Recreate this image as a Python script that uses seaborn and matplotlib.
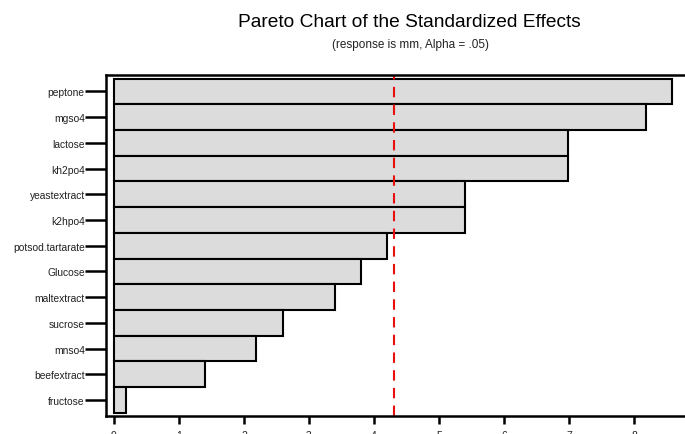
import matplotlib
matplotlib.use("Agg")
import matplotlib.pyplot as plt
import seaborn as sns
import pandas as pd

# Standardized effects, largest first
factors = ["peptone", "mgso4", "lactose", "kh2po4", "yeastextract", "k2hpo4",
           "potsod.tartarate", "Glucose", "maltextract", "sucrose", "mnso4",
           "beefextract", "fructose"]
effects = [8.58, 8.18, 6.98, 6.98, 5.40, 5.40, 4.20, 3.80, 3.40, 2.60, 2.18, 1.40, 0.18]
critical_t = 4.303
x_ticks = [0, 1, 2, 3, 4, 5, 6, 7, 8]

df = pd.DataFrame({"factor": factors, "effect": effects})

sns.set_style("white")
plt.rcParams["font.family"] = ["Liberation Sans", "DejaVu Sans"]
plt.rcParams["text.color"] = "black"
plt.rcParams["xtick.color"] = "black"
plt.rcParams["ytick.color"] = "black"

fig = plt.figure(figsize=(6.85, 4.35), dpi=100)
ax = fig.add_axes([106 / 685, 18 / 435, 579 / 685, 341 / 435])

sns.barplot(data=df, x="effect", y="factor", orient="h", color="#dcdcdc",
            edgecolor="black", linewidth=1.5, width=1.0, saturation=1, ax=ax)

ax.axvline(critical_t, color="#e8100e", linestyle=(0, (5, 3.5)), linewidth=1.5)

ax.set_xlim(-0.123, 8.785)
ax.set_ylim(12.62, -0.64)
ax.set_xticks(x_ticks)
ax.set_xlabel("")
ax.set_ylabel("")

for side in ["left", "bottom", "top"]:
    ax.spines[side].set_linewidth(1.8)
    ax.spines[side].set_color("black")
ax.spines["right"].set_visible(False)

ax.tick_params(axis="y", direction="out", length=15, width=1.8, pad=0.3,
               labelsize=7.4, left=True, labelcolor="#222222")
ax.tick_params(axis="x", direction="out", length=6, width=1.8, pad=4,
               labelsize=7.5, bottom=True, labelcolor="#222222")

fig.text(0.597, 0.948, "Pareto Chart of the Standardized Effects",
         ha="center", va="center", fontsize=13.8, color="black")
fig.text(0.600, 0.896, "(response is mm, Alpha = .05)",
         ha="center", va="center", fontsize=8.5, color="#222222")

fig.savefig("out.png", dpi=100)
